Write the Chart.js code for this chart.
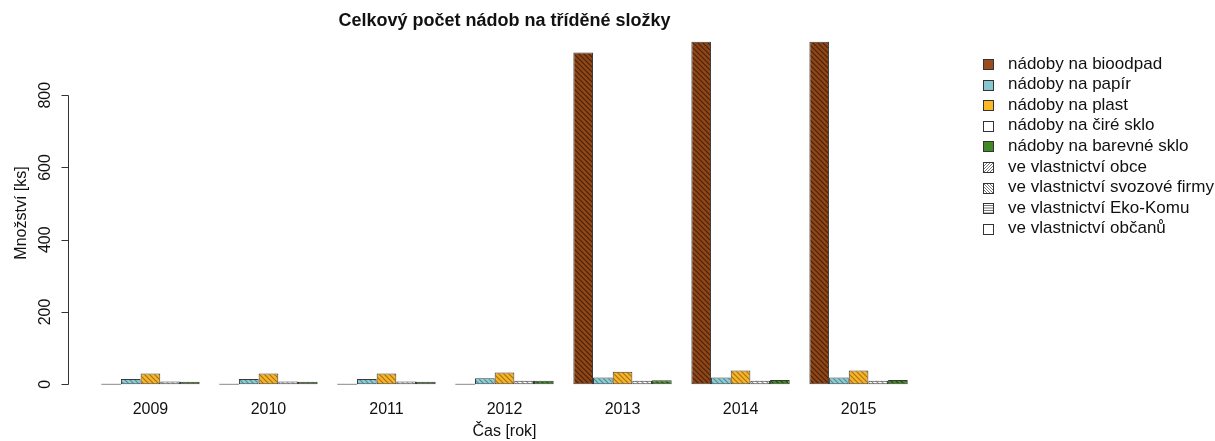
<!DOCTYPE html>
<html>
<head>
<meta charset="utf-8">
<script src="https://cdn.jsdelivr.net/npm/chart.js@4"></script>
<style>
  body { margin: 0; background: #fff; }
</style>
</head>
<body>
<canvas id="nadoby" width="1215" height="441"></canvas>
<script>
// roky a počty nádob
const years = [2009, 2010, 2011, 2012, 2013, 2014, 2015];
const bioodpad = [0, 0, 0, 0, 918, 948, 948];
const papir = [15, 15, 15, 17, 19, 19, 19];
const plast = [30, 30, 30, 33, 35, 38, 38];
const cireSklo = [8, 8, 8, 10, 10, 10, 10];
const barevneSklo = [7, 7, 7, 10, 11, 12, 12];
const yTicks = [0, 200, 400, 600, 800];

const seriesNames = ['nádoby na bioodpad', 'nádoby na papír', 'nádoby na plast', 'nádoby na čiré sklo', 'nádoby na barevné sklo'];
const ownerNames = ['ve vlastnictví obce', 've vlastnictví svozové firmy', 've vlastnictví Eko-Komu', 've vlastnictví občanů'];

const FONT = 'Liberation Sans, Arial, sans-serif';

function hatch(base, line) {
  const s = 5;
  const c = document.createElement('canvas');
  c.width = s; c.height = s;
  const g = c.getContext('2d');
  g.fillStyle = base;
  g.fillRect(0, 0, s, s);
  g.strokeStyle = line;
  g.lineWidth = 1.2;
  g.beginPath();
  for (const k of [-s, 0, s]) {
    g.moveTo(-1, -1 + k);
    g.lineTo(s + 1, s + 1 + k);
  }
  g.stroke();
  return g.createPattern(c, 'repeat');
}

const fills = [
  hatch('#8f4718', '#4b2009'),
  hatch('#8dcdd5', '#4d8f99'),
  hatch('#f9b52a', '#a8720c'),
  hatch('#ffffff', '#8a8a8a'),
  hatch('#3f8c22', '#1d4a0d')
];
const swatch = ['#9c4b1e', '#86c7d0', '#fcb927', '#ffffff', '#3f8a23'];
const values = [bioodpad, papir, plast, cireSklo, barevneSklo];

const datasets = values.map((vals, i) => ({
  label: seriesNames[i],
  data: years.map((yr, j) => ({ x: yr, y: vals[j] })),
  backgroundColor: c => (c.raw && c.raw.y === 0) ? '#8a8a8a' : fills[i],
  borderColor: '#3a3a3a',
  borderWidth: c => (c.raw && c.raw.y === 0) ? 0 : 1,
  borderSkipped: false,
  minBarLength: 1,
  categoryPercentage: 5 / 6,
  barPercentage: 1
}));

const extras = {
  id: 'extras',
  afterDraw(chart) {
    const ctx = chart.ctx;
    const area = chart.chartArea;
    const y = chart.scales.y;
    ctx.save();
    ctx.fillStyle = '#111';

    // titulek
    ctx.font = 'bold 18px ' + FONT;
    ctx.textAlign = 'center';
    ctx.textBaseline = 'middle';
    ctx.fillText('Celkový počet nádob na tříděné složky', (area.left + area.right) / 2, 21);

    // osa x popisek
    ctx.font = '16px ' + FONT;
    ctx.fillText('Čas [rok]', (area.left + area.right) / 2, 432);

    // osa y
    ctx.strokeStyle = '#333';
    ctx.lineWidth = 1;
    const ax = area.left - 0.5;
    ctx.beginPath();
    ctx.moveTo(ax, Math.round(y.getPixelForValue(0)) + 0.5);
    ctx.lineTo(ax, Math.round(y.getPixelForValue(800)) + 0.5);
    for (const v of yTicks) {
      const py = Math.round(y.getPixelForValue(v)) + 0.5;
      ctx.moveTo(ax - 7, py);
      ctx.lineTo(ax, py);
    }
    ctx.stroke();
    for (const v of yTicks) {
      ctx.save();
      ctx.translate(46, y.getPixelForValue(v));
      ctx.rotate(-Math.PI / 2);
      ctx.fillText(String(v), 0, 0);
      ctx.restore();
    }
    ctx.save();
    ctx.translate(22, (area.top + area.bottom) / 2);
    ctx.rotate(-Math.PI / 2);
    ctx.fillText('Množství [ks]', 0, 0);
    ctx.restore();

    // legenda
    const lx = 983, ly = 64, dy = 20.6;
    ctx.textAlign = 'left';
    const names = seriesNames.concat(ownerNames);
    names.forEach((name, i) => {
      const cy = ly + i * dy;
      const bx = lx + 0.5, by = Math.round(cy - 5) + 0.5, bw = 10, bh = 10;
      if (i < 5) {
        ctx.fillStyle = swatch[i];
        ctx.fillRect(bx, by, bw, bh);
      } else {
        ctx.fillStyle = '#fff';
        ctx.fillRect(bx, by, bw, bh);
        ctx.save();
        ctx.beginPath();
        ctx.rect(bx, by, bw, bh);
        ctx.clip();
        ctx.strokeStyle = '#555';
        ctx.lineWidth = 0.8;
        ctx.beginPath();
        const k = i - 5;
        for (let t = -12; t <= 12; t += 3) {
          if (k === 0) { ctx.moveTo(bx + t, by + bh); ctx.lineTo(bx + t + bh, by); }
          if (k === 1) { ctx.moveTo(bx + t, by); ctx.lineTo(bx + t + bh, by + bh); }
        }
        if (k === 2) {
          for (let t = 2; t < bh; t += 2.5) { ctx.moveTo(bx, by + t); ctx.lineTo(bx + bw, by + t); }
        }
        ctx.stroke();
        ctx.restore();
      }
      ctx.strokeStyle = '#333';
      ctx.lineWidth = 1;
      ctx.strokeRect(bx, by, bw, bh);
      ctx.fillStyle = '#111';
      ctx.font = '17px ' + FONT;
      ctx.fillText(name, 1008, cy);
    });
    ctx.restore();
  }
};

new Chart(document.getElementById('nadoby'), {
  type: 'bar',
  data: { datasets: datasets },
  options: {
    responsive: false,
    animation: false,
    devicePixelRatio: 1,
    layout: { padding: { left: 69, right: 275, top: 28, bottom: 0 } },
    plugins: {
      legend: { display: false },
      tooltip: { enabled: false },
      title: { display: false }
    },
    scales: {
      x: {
        type: 'linear',
        min: 2008.31,
        max: 2015.69,
        offset: false,
        grid: { display: false, drawTicks: false },
        border: { display: false },
        afterBuildTicks: s => { s.ticks = years.map(v => ({ value: v })); },
        afterFit: s => { s.height = 43; },
        ticks: {
          autoSkip: false,
          maxRotation: 0,
          padding: 2,
          color: '#111',
          font: { family: FONT, size: 16 },
          callback: v => String(v)
        }
      },
      y: {
        display: false,
        min: -37.9,
        max: 985.9
      }
    }
  },
  plugins: [extras]
});
</script>
</body>
</html>
